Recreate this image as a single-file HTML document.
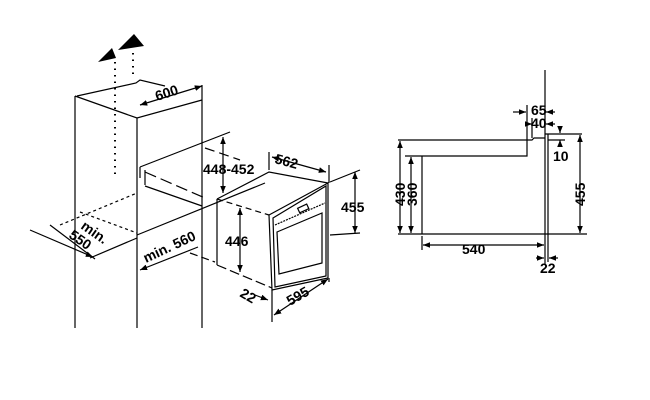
<!DOCTYPE html>
<html><head><style>
body{margin:0;background:#fff}
svg{display:block}
text{font-family:"Liberation Sans",sans-serif;font-weight:bold;font-size:14px;fill:#000}
</style></head><body>
<svg width="650" height="400" viewBox="0 0 650 400" xmlns="http://www.w3.org/2000/svg">
<defs>
<marker id="a" viewBox="0 0 10 10" refX="10" refY="5" markerWidth="6" markerHeight="6" orient="auto-start-reverse"><path d="M0,1 L10,5 L0,9 z" fill="#000"/></marker>
</defs>
<g stroke="#000" stroke-width="1.2" fill="none">
<line x1="75" y1="96" x2="75" y2="328"/>
<line x1="137" y1="118" x2="137" y2="328"/>
<line x1="202" y1="100" x2="202" y2="328"/>
<polyline points="75,96 137,118 202,100"/>
<polyline points="77,96 136,83 140,80 165,86"/>
<line x1="202" y1="85" x2="202" y2="100"/>
<line x1="115" y1="62" x2="115" y2="175" stroke-dasharray="1.5 5" stroke-width="2"/>
<line x1="133" y1="53" x2="133" y2="76" stroke-dasharray="1.5 5" stroke-width="2"/>
<line x1="140" y1="167" x2="230" y2="132"/>
<line x1="140" y1="167" x2="140" y2="178"/>
<line x1="145" y1="170" x2="145" y2="185"/>
<line x1="145" y1="172" x2="205" y2="198" stroke-dasharray="12 5"/>
<line x1="205" y1="148" x2="240" y2="160" stroke-dasharray="10 5"/>
<line x1="145" y1="186" x2="202" y2="206"/>
<line x1="137" y1="235" x2="265" y2="183"/>
<line x1="190" y1="253" x2="215" y2="262" stroke-dasharray="8 4"/>
<line x1="60" y1="225" x2="137" y2="193" stroke-dasharray="3 3"/>
<line x1="80" y1="212" x2="137" y2="233" stroke-dasharray="3 3"/>
<line x1="50" y1="225" x2="95" y2="259"/>
<line x1="90" y1="258" x2="137" y2="238"/>
<line x1="140" y1="105" x2="202" y2="86" marker-start="url(#a)" marker-end="url(#a)"/>
<line x1="140" y1="270" x2="198" y2="247" marker-start="url(#a)"/>
<line x1="30" y1="230" x2="93" y2="257" marker-end="url(#a)"/>
<line x1="223" y1="137" x2="223" y2="193" marker-start="url(#a)" marker-end="url(#a)"/>
<polyline points="217,199 269,172 328,183"/>
<line x1="217" y1="199" x2="217" y2="265"/>
<line x1="217" y1="265" x2="272" y2="288" stroke-dasharray="10 4"/>
<line x1="217" y1="199" x2="269" y2="215" stroke-dasharray="6 4"/>
<polygon points="269,215 328,183 328,278 272,290"/>
<polygon points="273,218 326,186 326,276 275,287"/>
<polygon points="277,232 322,213 322,263 279,274"/>
<line x1="275" y1="225" x2="325" y2="203" stroke-dasharray="2 1"/>
<rect x="298" y="206" width="10" height="5" transform="rotate(-25 303 208)"/>
<line x1="240" y1="208" x2="240" y2="272" marker-start="url(#a)" marker-end="url(#a)"/>
<line x1="269" y1="152" x2="269" y2="170"/>
<line x1="329" y1="165" x2="329" y2="183"/>
<line x1="272" y1="157" x2="326" y2="172" marker-start="url(#a)" marker-end="url(#a)"/>
<line x1="330" y1="182" x2="360" y2="170"/>
<line x1="330" y1="235" x2="360" y2="233"/>
<line x1="355" y1="172" x2="355" y2="233" marker-start="url(#a)" marker-end="url(#a)"/>
<line x1="272" y1="290" x2="272" y2="322"/>
<line x1="329" y1="278" x2="329" y2="282"/>
<line x1="274" y1="315" x2="328" y2="279" marker-start="url(#a)" marker-end="url(#a)"/>
<line x1="255" y1="295" x2="268" y2="300" marker-end="url(#a)"/>
<line x1="545" y1="70" x2="545" y2="265"/>
<line x1="548" y1="134" x2="548" y2="234"/>
<line x1="545" y1="134" x2="582" y2="134"/>
<polyline points="398,140 532,140 534,138 545,138"/>
<polyline points="405,156 527,156 527,140"/>
<line x1="422" y1="156" x2="422" y2="234"/>
<line x1="398" y1="234" x2="587" y2="234"/>
<line x1="400" y1="141" x2="400" y2="233" marker-start="url(#a)" marker-end="url(#a)"/>
<line x1="411" y1="157" x2="411" y2="233" marker-start="url(#a)" marker-end="url(#a)"/>
<line x1="580" y1="135" x2="580" y2="233" marker-start="url(#a)" marker-end="url(#a)"/>
<line x1="423" y1="245" x2="544" y2="245" marker-start="url(#a)" marker-end="url(#a)"/>
<line x1="422" y1="236" x2="422" y2="250"/>
<line x1="513" y1="112" x2="526" y2="112" marker-end="url(#a)"/>
<line x1="555" y1="112" x2="546" y2="112" marker-end="url(#a)"/>
<line x1="527" y1="105" x2="527" y2="140"/>
<line x1="526" y1="124" x2="532" y2="124" marker-end="url(#a)"/>
<line x1="555" y1="124" x2="546" y2="124" marker-end="url(#a)"/>
<line x1="532" y1="118" x2="532" y2="138"/>
<line x1="560" y1="126" x2="560" y2="133" marker-end="url(#a)"/>
<line x1="560" y1="146" x2="560" y2="140" marker-end="url(#a)"/>
<line x1="548" y1="140" x2="565" y2="140"/>
<line x1="536" y1="258" x2="544" y2="258" marker-end="url(#a)"/>
<line x1="558" y1="258" x2="549" y2="258" marker-end="url(#a)"/>
<line x1="548" y1="234" x2="548" y2="262"/>
</g>
<path d="M98,62 L112,48 L116,58 z" fill="#000"/>
<path d="M118,50 L134,34 L144,46 z" fill="#000"/>
<text x="157" y="101" transform="rotate(-18 157 101)" font-size="15">600</text>
<text x="203" y="174" font-size="14">448-452</text>
<text x="274" y="163" transform="rotate(15 274 163)" font-size="15">562</text>
<text x="341" y="212" font-size="15">455</text>
<text x="225" y="246" font-size="15">446</text>
<text x="239" y="296" transform="rotate(30 239 296)" font-size="15">22</text>
<text x="290" y="306" transform="rotate(-30 290 306)" font-size="15">595</text>
<text x="146" y="263" transform="rotate(-25 146 263)" font-size="15">min. 560</text>
<text x="80" y="228" transform="rotate(35 80 228)" font-size="15">min.</text>
<text x="68" y="237" transform="rotate(35 68 237)" font-size="15">550</text>
<text x="462" y="254" font-size="15">540</text>
<text x="531" y="115" font-size="13">65</text>
<text x="531" y="128" font-size="13">40</text>
<text x="553" y="161" font-size="13">10</text>
<text x="540" y="273" font-size="13">22</text>
<text x="405" y="206" transform="rotate(-90 405 206)" font-size="14">430</text>
<text x="417" y="206" transform="rotate(-90 417 206)" font-size="14">360</text>
<text x="585" y="206" transform="rotate(-90 585 206)" font-size="14">455</text>
</svg>
</body></html>
